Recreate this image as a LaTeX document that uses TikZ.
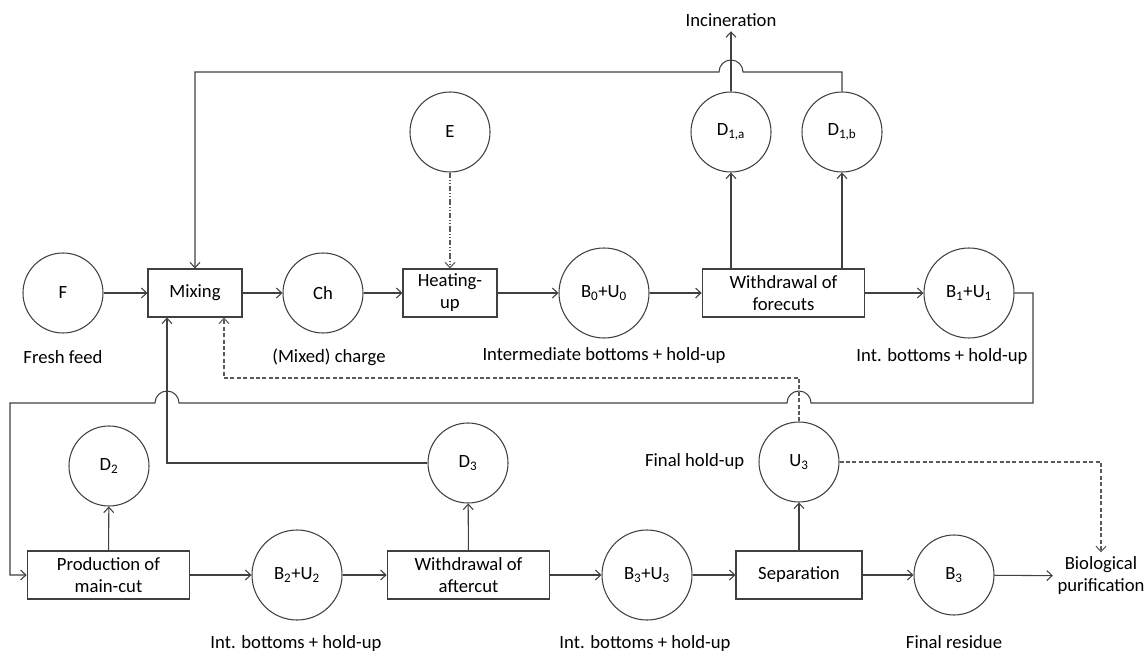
\documentclass[tikz,border=0pt]{standalone}
\usepackage{fontspec}
\setmainfont{Carlito}
\usetikzlibrary{arrows.meta,calc}
\tikzset{
%Define standard arrow tip
>={Straight Barb[length=4pt,width=7.5pt]},
%Define styles for streams and process units
stream/.style={circle, draw=black!75, line width=0.8pt, minimum size=60pt, inner sep=0pt},
big stream/.style={stream, minimum size=67.5pt},
unit/.style={draw=black!75, line width=0.8pt, minimum height=36pt, minimum width=70.5pt, align=center, inner sep=2pt},
caption/.style={align=center},
%Define line styles for the flows
flow/.style={->, draw=black!75, line width=0.8pt},
recycle/.style={->, draw=black!65, line width=0.8pt, dash pattern=on 3pt off 1.8pt},
energy/.style={->, draw=black!65, line width=0.8pt, dash pattern=on 4pt off 1.5pt on 0.8pt off 1.5pt on 0.8pt off 1.5pt},
}
\begin{document}
\begin{tikzpicture}[x=0.75pt, y=0.75pt, font=\fontsize{14}{16.5}\selectfont]
\useasboundingbox (0,0) rectangle (1148,654);
% Upper row: charge preparation and forecuts
\node[stream] (F) at (63,361) {F};
\node[unit] (mix) at (195,361) {Mixing};
\node[stream] (Ch) at (323,361) {Ch};
\node[unit] (heat) at (450,361) {Heating-\\up};
\node[big stream] (B0) at (604,361) {B\textsubscript{0}+U\textsubscript{0}};
\node[unit, minimum width=122pt] (wf) at (783.5,361) {Withdrawal of\\forecuts};
\node[big stream] (B1) at (969,361) {B\textsubscript{1}+U\textsubscript{1}};
\node[stream] (E) at (450,522) {E};
\node[stream] (D1a) at (731,522) {D\textsubscript{1,a}};
\node[stream] (D1b) at (842,522) {D\textsubscript{1,b}};
\node (inc) at (731,634) {Incineration};
% Lower row: main-cut, aftercut and separation
\node[unit, minimum width=122pt] (prod) at (108.5,79) {Production of\\main-cut};
\node[stream] (D2) at (109,188) {D\textsubscript{2}};
\node[big stream] (B2) at (297,79) {B\textsubscript{2}+U\textsubscript{2}};
\node[unit, minimum width=122pt] (ac) at (468.5,79) {Withdrawal of\\aftercut};
\node[stream] (D3) at (468,191) {D\textsubscript{3}};
\node[big stream] (B3U3) at (647,79) {B\textsubscript{3}+U\textsubscript{3}};
\node[unit, minimum width=94.5pt] (sep) at (799,79) {Separation};
\node[stream] (B3) at (954,79) {B\textsubscript{3}};
\node[stream] (U3) at (799,192) {U\textsubscript{3}};
\node[caption] (bio) at (1101,78) {Biological\\purification};
% Captions
\node[caption] (lF) at (63,297) {Fresh feed};
\node[caption] (lCh) at (329,297) {(Mixed) charge};
\node[caption] (lB0) at (604,298) {Intermediate bottoms + hold-up};
\node[caption] (lB1) at (942,297) {Int. bottoms + hold-up};
\node[caption] (lB2) at (296,10) {Int. bottoms + hold-up};
\node[caption] (lB3U3) at (645,10) {Int. bottoms + hold-up};
\node[caption] (lB3) at (954,12) {Final residue};
\node[caption, anchor=east] (lU3) at (749,192) {Final hold-up};
% Helper coordinates for the long lines
\coordinate (top) at (0,582);
\coordinate (ret) at (1033,251);
\coordinate (lft) at (10,251);
\coordinate (rec) at (0,276);
\coordinate (mixa) at ($(mix.south)+(-28,0)$);
\coordinate (mixb) at ($(mix.south)+(29,0)$);
% Main flows
\draw[flow] (F) -- (mix);
\draw[flow] (mix) -- (Ch);
\draw[flow] (Ch) -- (heat);
\draw[flow] (heat) -- (B0);
\draw[flow] (B0) -- (wf);
\draw[flow] (wf) -- (B1);
\draw[energy] (E) -- (heat);
\draw[flow] (wf.north -| D1a) -- (D1a);
\draw[flow] (wf.north -| D1b) -- (D1b);
\draw[flow] (D1a) -- (inc);
\draw[flow] (prod) -- (B2);
\draw[flow] (B2) -- (ac);
\draw[flow] (ac) -- (B3U3);
\draw[flow] (B3U3) -- (sep);
\draw[flow] (sep) -- (B3);
\draw[flow] (B3) -- (bio);
\draw[flow] (prod) -- (D2);
\draw[flow] (ac) -- (D3);
\draw[flow] (sep) -- (U3);
% Recycle lines with hops
\draw[flow] (D1b) -- (D1b |- top) -- ($(D1a |- top)+(12,0)$) arc[start angle=0, end angle=180, radius=9pt] -- (mix |- top) -- (mix);
\draw[flow] (B1.east) -| (ret) -- ($(U3 |- ret)+(12,0)$) arc[start angle=0, end angle=180, radius=9pt]
  -- ($(mixa |- ret)+(12,0)$) arc[start angle=0, end angle=180, radius=9pt] -- (lft) |- (prod.west);
\draw[flow] (D3.west) -| (mixa);
\draw[recycle] (U3.north) |- (mixb |- rec) -- (mixb);
\draw[recycle] (U3.east) -| (bio.north);
\end{tikzpicture}
\end{document}
